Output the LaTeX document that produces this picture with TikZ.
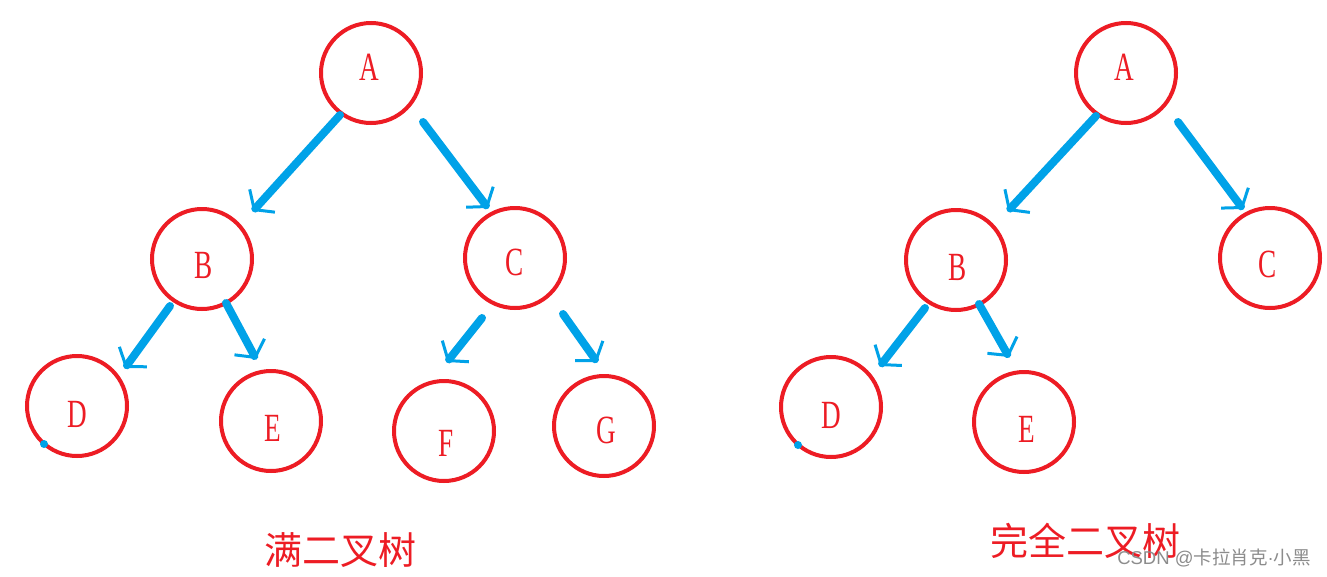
\documentclass[tikz,border=0pt]{standalone}
\usepackage{fontspec}
\usepackage{graphicx}
\setmainfont{Liberation Serif}
\newfontfamily\cjk{Noto Sans CJK SC}
\newfontfamily\wmlat{Liberation Sans}
\usetikzlibrary{arrows.meta,calc}
\definecolor{pred}{RGB}{237,28,36}
\definecolor{pblue}{RGB}{0,162,232}
\begin{document}
\begin{tikzpicture}[x=1pt,y=-1pt,
  tnode/.style={circle,draw=pred,line width=4pt,minimum size=100pt,inner sep=0pt},
  lab/.style={text=pred,inner sep=0pt,font=\fontsize{40}{40}\selectfont},
  arr/.style={pblue,line width=8pt,line cap=round,
    -{Straight Barb[length=12pt,width=34pt,line width=3pt 0]}},
  title/.style={text=pred,inner sep=0pt,font=\cjk\fontsize{38}{38}\selectfont},
  wm/.style={text=black!45,inner sep=0pt,font=\cjk\fontsize{18.5}{18.5}\selectfont}]
\fill[white] (0,0) rectangle (1327,576);
\useasboundingbox (0,0) rectangle (1327,576);
% left tree
\node[tnode] (A) at (371,73) {};
\node[tnode] (B) at (202,259) {};
\node[tnode] (C) at (515,258) {};
\node[tnode] (D) at (77,406) {};
\node[tnode] (E) at (271,421) {};
\node[tnode] (F) at (444,431) {};
\node[tnode] (G) at (604,426) {};
\node[lab] (lA) at (369,67) {\scalebox{0.68}[1]{A}};
\node[lab] (lB) at (204,265) {\scalebox{0.68}[1]{B}};
\node[lab] (lC) at (515,262) {\scalebox{0.68}[1]{C}};
\node[lab] (lD) at (77,414) {\scalebox{0.68}[1]{D}};
\node[lab] (lE) at (273,428) {\scalebox{0.68}[1]{E}};
\node[lab] (lF) at (446,443) {\scalebox{0.68}[1]{F}};
\node[lab] (lG) at (606,430) {\scalebox{0.68}[1]{G}};
\draw[arr] ($(A)+(-31,42)$) -- ($(B)+(51,-48)$);
\draw[arr] ($(A)+(52,49)$) -- ($(C)+(-27,-50)$);
\draw[arr] ($(B)+(-32,47)$) -- ($(D)+(48,-38)$);
\draw[arr] ($(B)+(24,44)$) -- ($(E)+(-15,-62)$);
\draw[arr] ($(C)+(-33,60)$) -- ($(F)+(3,-69)$);
\draw[arr] ($(C)+(48,56)$) -- ($(G)+(-7,-64)$);
\fill[pblue] ($(D)+(-33,38)$) circle (4);
% right tree
\node[tnode] (A2) at (1126,73) {};
\node[tnode] (B2) at (956,260) {};
\node[tnode] (C2) at (1270,258) {};
\node[tnode] (D2) at (831,407) {};
\node[tnode] (E2) at (1024,422) {};
\node[lab] (lA2) at (1124,67) {\scalebox{0.68}[1]{A}};
\node[lab] (lB2) at (958,267) {\scalebox{0.68}[1]{B}};
\node[lab] (lC2) at (1268,264) {\scalebox{0.68}[1]{C}};
\node[lab] (lD2) at (831,415) {\scalebox{0.68}[1]{D}};
\node[lab] (lE2) at (1027,429) {\scalebox{0.68}[1]{E}};
\draw[arr] ($(A2)+(-30,43)$) -- ($(B2)+(52,-49)$);
\draw[arr] ($(A2)+(52,49)$) -- ($(C2)+(-27,-49)$);
\draw[arr] ($(B2)+(-31,48)$) -- ($(D2)+(49,-41)$);
\draw[arr] ($(B2)+(23,44)$) -- ($(E2)+(-15,-65)$);
\fill[pblue] ($(D2)+(-33,38)$) circle (4);
% titles
\node[title] (t1) at (340,550) {满二叉树};
\node[title] (t2) at (1085,541) {完全二叉树};
\node[wm] (wm) at (1214,558) {{\wmlat CSDN @}卡拉肖克{\wmlat ·}小黑};
\end{tikzpicture}
\end{document}
